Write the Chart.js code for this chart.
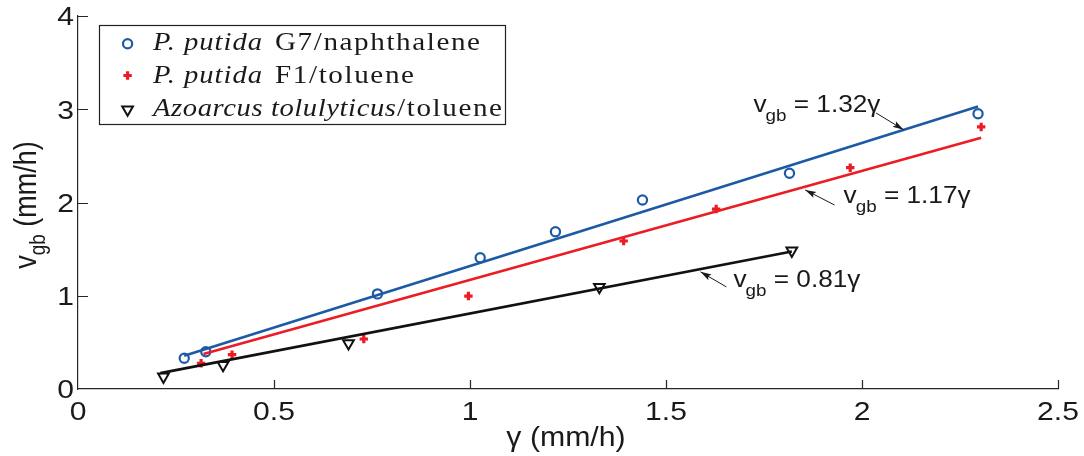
<!DOCTYPE html>
<html>
<head>
<meta charset="utf-8">
<script src="https://cdn.jsdelivr.net/npm/chart.js@4/dist/chart.umd.min.js"></script>
<style>
  html, body { margin: 0; padding: 0; background: #fff; }
  #wrap { width: 1084px; height: 456px; }
</style>
</head>
<body>
<div id="wrap"><canvas id="c" width="1084" height="456"></canvas></div>
<script>
// Measured growth rate gamma (mm/h) and band velocity v_gb (mm/h)
const g7Gamma  = [0.271, 0.326, 0.764, 1.026, 1.218, 1.440, 1.815, 2.296];
const g7Vgb    = [0.329, 0.400, 1.020, 1.408, 1.687, 2.027, 2.313, 2.952];

const f1Gamma  = [0.314, 0.393, 0.729, 0.996, 1.392, 1.628, 1.970, 2.304];
const f1Vgb    = [0.276, 0.368, 0.536, 0.997, 1.587, 1.930, 2.373, 2.810];

const azoGamma = [0.218, 0.370, 0.690, 1.330, 1.821];
const azoVgb   = [0.132, 0.257, 0.490, 1.094, 1.483];

// Linear fits v_gb = k * gamma, drawn over the range of each data set
const fitSlopes = [1.32, 1.17, 0.81];
const fitFrom   = [0.271, 0.320, 0.210];
const fitTo     = [2.296, 2.304, 1.821];

const xTicks = [0, 0.5, 1, 1.5, 2, 2.5];
const xTickLabels = ['0', '0.5', '1', '1.5', '2', '2.5'];
const yTicks = [0, 1, 2, 3, 4];
const yTickLabels = ['0', '1', '2', '3', '4'];

const BLUE = '#1d5aa6';
const RED = '#ec1c24';
const BLACK = '#111111';
const AXIS = '#262626';
const TEXT = '#1a1a1a';
const SANS = '"Liberation Sans", Arial, Helvetica, sans-serif';
const SERIF = '"Liberation Serif", "Times New Roman", serif';

const pts = (xs, ys) => xs.map((x, i) => ({ x: x, y: ys[i] }));
const fitLine = i => [
  { x: fitFrom[i], y: fitSlopes[i] * fitFrom[i] },
  { x: fitTo[i],   y: fitSlopes[i] * fitTo[i] }
];

const markerStyles = [
  { pointStyle: 'circle',   radius: 4.6, rotation: 0,   borderWidth: 2.2, color: BLUE,  fill: 'rgba(0,0,0,0)' },
  { pointStyle: 'cross',    radius: 4.2, rotation: 0,   borderWidth: 3.2, color: RED,   fill: RED },
  { pointStyle: 'triangle', radius: 6.2, rotation: 180, borderWidth: 2.0, color: BLACK, fill: 'rgba(0,0,0,0)' }
];

function scatterSet(data, m) {
  return {
    data: data, showLine: false,
    pointStyle: m.pointStyle, pointRadius: m.radius, pointRotation: m.rotation,
    pointBorderWidth: m.borderWidth, pointBorderColor: m.color,
    pointBackgroundColor: m.fill, pointHoverRadius: m.radius
  };
}
function lineSet(data, color) {
  return {
    data: data, showLine: true, pointRadius: 0, pointHoverRadius: 0,
    borderColor: color, borderWidth: 2.6, fill: false
  };
}

// Text drawn with a horizontal stretch; returns the drawn width
function wideText(ctx, str, x, y, sx, align) {
  const w = ctx.measureText(str).width * sx;
  const x0 = align === 'center' ? x - w / 2 : align === 'right' ? x - w : x;
  ctx.save();
  ctx.translate(x0, y);
  ctx.scale(sx, 1);
  ctx.textAlign = 'left';
  ctx.fillText(str, 0, 0);
  ctx.restore();
  return w;
}

// Text spread between x0 and x1: slight stretch plus letter spacing
function spreadText(ctx, str, x0, x1, y, sx) {
  if ('letterSpacing' in ctx) ctx.letterSpacing = '0px';
  const w = ctx.measureText(str).width * sx;
  const extra = Math.max(0, (x1 - x0) - w);
  ctx.save();
  ctx.translate(x0, y);
  ctx.scale(sx, 1);
  if ('letterSpacing' in ctx && str.length > 1) {
    ctx.letterSpacing = (extra / (str.length - 1) / sx).toFixed(2) + 'px';
  }
  ctx.textAlign = 'left';
  ctx.fillText(str, 0, 0);
  ctx.restore();
  if ('letterSpacing' in ctx) ctx.letterSpacing = '0px';
}

// Tick labels, inward tick marks and axis titles
const axisDecor = {
  id: 'axisDecor',
  afterDraw(chart) {
    const ctx = chart.ctx, xs = chart.scales.x, ys = chart.scales.y;
    const a = chart.chartArea;
    ctx.save();
    ctx.strokeStyle = AXIS;
    ctx.lineWidth = 1.2;
    ctx.beginPath();
    xTicks.forEach(v => {
      if (v === 0) return;
      const px = Math.round(xs.getPixelForValue(v)) + 0.5;
      ctx.moveTo(px, a.bottom); ctx.lineTo(px, a.bottom - 9);
    });
    yTicks.forEach(v => {
      if (v === 0) return;
      const py = Math.round(ys.getPixelForValue(v)) + 0.5;
      ctx.moveTo(a.left, py); ctx.lineTo(a.left + 10, py);
    });
    ctx.stroke();

    ctx.fillStyle = TEXT;
    ctx.textBaseline = 'alphabetic';
    ctx.font = '25.5px ' + SANS;
    xTicks.forEach((v, i) => {
      wideText(ctx, xTickLabels[i], xs.getPixelForValue(v), a.bottom + 30.5, 1.18, 'center');
    });
    yTicks.forEach((v, i) => {
      wideText(ctx, yTickLabels[i], a.left - 4, ys.getPixelForValue(v) + 9.3, 1.18, 'right');
    });

    // x title
    ctx.font = '28px ' + SANS;
    wideText(ctx, '\u03b3 (mm/h)', (a.left + a.right) / 2 - 2, 446, 1.08, 'center');

    // y title, rotated, with subscript
    ctx.translate(36, 205);
    ctx.rotate(-Math.PI / 2);
    ctx.scale(1, 1.15);
    const big = '27px ' + SANS, small = '19px ' + SANS;
    ctx.font = big;  const w1 = ctx.measureText('v').width;
    ctx.font = small; const w2 = ctx.measureText('gb').width;
    ctx.font = big;  const w3 = ctx.measureText(' (mm/h)').width;
    const x0 = -(w1 + w2 + w3) / 2;
    ctx.font = big;   ctx.fillText('v', x0, 0);
    ctx.font = small; ctx.fillText('gb', x0 + w1, 8);
    ctx.font = big;   ctx.fillText(' (mm/h)', x0 + w1 + w2, 0);
    ctx.restore();
  }
};

// Fit equations with arrows pointing at their lines
const fitLabels = [
  { k: 0, text: '1.32', tx: 1.723, ty: 2.975, from: 2.036, fromY: 2.960, to: 2.106, off: 0.0 },
  { k: 1, text: '1.17', tx: 1.953, ty: 1.995, from: 1.930, fromY: 1.973, to: 1.855, off: -0.035 },
  { k: 2, text: '0.81', tx: 1.672, ty: 1.093, from: 1.654, fromY: 1.095, to: 1.588, off: -0.03 }
];

const annotations = {
  id: 'annotations',
  afterDatasetsDraw(chart) {
    const ctx = chart.ctx, xs = chart.scales.x, ys = chart.scales.y;
    ctx.save();
    ctx.fillStyle = TEXT;
    ctx.strokeStyle = TEXT;
    ctx.textBaseline = 'alphabetic';
    const sx = 1.14;
    fitLabels.forEach(l => {
      const px = xs.getPixelForValue(l.tx), py = ys.getPixelForValue(l.ty);
      ctx.font = '23px ' + SANS;
      const w1 = wideText(ctx, 'v', px, py, sx);
      ctx.font = '16.5px ' + SANS;
      const w2 = wideText(ctx, 'gb', px + w1 - 1, py + 9, sx);
      ctx.font = '23px ' + SANS;
      wideText(ctx, ' = ' + l.text + '\u03b3', px + w1 - 1 + w2, py, sx);

      // arrow
      const x1 = xs.getPixelForValue(l.from), y1 = ys.getPixelForValue(l.fromY);
      const x2 = xs.getPixelForValue(l.to), y2 = ys.getPixelForValue(fitSlopes[l.k] * l.to + l.off);
      ctx.lineWidth = 1;
      ctx.beginPath(); ctx.moveTo(x1, y1); ctx.lineTo(x2, y2); ctx.stroke();
      const ang = Math.atan2(y2 - y1, x2 - x1), L = 11, W = 3.2;
      ctx.beginPath();
      ctx.moveTo(x2, y2);
      ctx.lineTo(x2 - L * Math.cos(ang) + W * Math.sin(ang), y2 - L * Math.sin(ang) - W * Math.cos(ang));
      ctx.lineTo(x2 - L * 0.8 * Math.cos(ang), y2 - L * 0.8 * Math.sin(ang));
      ctx.lineTo(x2 - L * Math.cos(ang) - W * Math.sin(ang), y2 - L * Math.sin(ang) + W * Math.cos(ang));
      ctx.closePath(); ctx.fill();
    });
    ctx.restore();
  }
};

// Legend: species names in italic, each run laid out between its left and right edges
const legendRows = [
  { m: 0, runs: [
    { text: 'P. putida', italic: true, x0: 153, x1: 262, sx: 1.1 },
    { text: 'G7/naphthalene', italic: false, x0: 275, x1: 480, sx: 1.12 } ] },
  { m: 1, runs: [
    { text: 'P. putida', italic: true, x0: 153, x1: 262, sx: 1.1 },
    { text: 'F1/toluene', italic: false, x0: 275, x1: 414, sx: 1.12 } ] },
  { m: 2, runs: [
    { text: 'Azoarcus tolulyticus', italic: true, x0: 153, x1: 396, sx: 1.1 },
    { text: '/toluene', italic: false, x0: 397, x1: 502, sx: 1.12 } ] }
];

const serifLegend = {
  id: 'serifLegend',
  afterDraw(chart) {
    const ctx = chart.ctx;
    const bx = 99.5, by = 25.5, bw = 406, bh = 99;
    ctx.save();
    ctx.fillStyle = '#fff';
    ctx.fillRect(bx, by, bw, bh);
    ctx.strokeStyle = '#222';
    ctx.lineWidth = 1.2;
    ctx.strokeRect(bx, by, bw, bh);
    const rowY = [43.8, 75.5, 109.5];
    const baseY = [50, 82.5, 115.5];
    legendRows.forEach((row, i) => {
      const m = markerStyles[row.m];
      ctx.strokeStyle = m.color;
      ctx.fillStyle = m.fill;
      ctx.lineWidth = m.borderWidth;
      Chart.helpers.drawPoint(ctx, {
        pointStyle: m.pointStyle, radius: m.radius, rotation: m.rotation, borderWidth: m.borderWidth
      }, 127.6, rowY[i]);
      ctx.fillStyle = TEXT;
      ctx.textBaseline = 'alphabetic';
      row.runs.forEach(r => {
        ctx.font = (r.italic ? 'italic ' : '') + '26px ' + SERIF;
        spreadText(ctx, r.text, r.x0, r.x1, baseY[i], r.sx);
      });
    });
    ctx.restore();
  }
};

new Chart(document.getElementById('c'), {
  type: 'scatter',
  data: {
    datasets: [
      lineSet(fitLine(0), BLUE),
      lineSet(fitLine(1), RED),
      lineSet(fitLine(2), BLACK),
      scatterSet(pts(g7Gamma, g7Vgb), markerStyles[0]),
      scatterSet(pts(f1Gamma, f1Vgb), markerStyles[1]),
      scatterSet(pts(azoGamma, azoVgb), markerStyles[2])
    ]
  },
  options: {
    responsive: false,
    animation: false,
    events: [],
    layout: { padding: { top: 16, right: 26, bottom: 0, left: 0 } },
    plugins: { legend: { display: false }, tooltip: { enabled: false } },
    scales: {
      x: {
        type: 'linear', min: 0, max: 2.5,
        afterBuildTicks: s => { s.ticks = xTicks.map(v => ({ value: v })); },
        afterFit: s => { s.height = 67; },
        grid: { display: false, drawTicks: false },
        border: { display: true, color: AXIS, width: 1.2 },
        ticks: { display: false }
      },
      y: {
        type: 'linear', min: 0, max: 4,
        afterBuildTicks: s => { s.ticks = yTicks.map(v => ({ value: v })); },
        afterFit: s => { s.width = 78; },
        grid: { display: false, drawTicks: false },
        border: { display: true, color: AXIS, width: 1.2 },
        ticks: { display: false }
      }
    }
  },
  plugins: [axisDecor, annotations, serifLegend]
});
</script>
</body>
</html>
